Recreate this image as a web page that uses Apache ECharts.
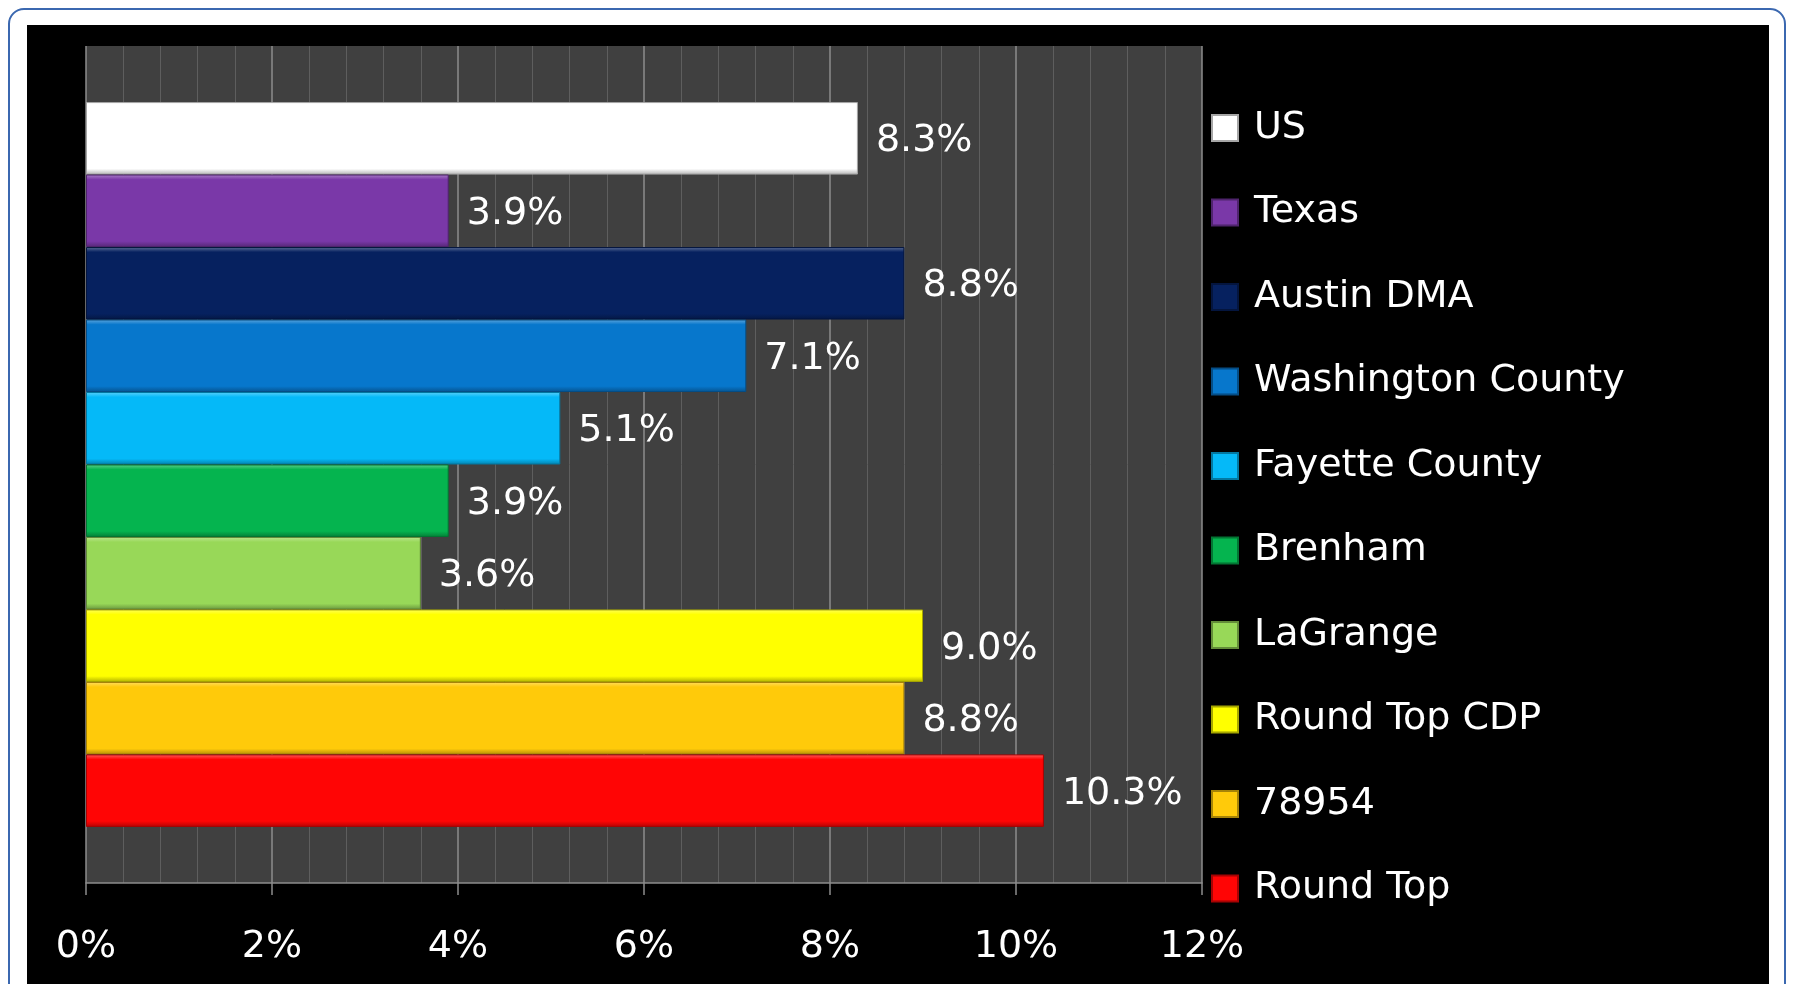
<!DOCTYPE html>
<html>
<head>
<meta charset="utf-8">
<script src="https://cdn.jsdelivr.net/npm/echarts@6/dist/echarts.min.js"></script>
<style>
html, body { margin:0; padding:0; background:#fff; width:1799px; height:984px; overflow:hidden; }
#frame { position:absolute; left:8px; top:8px; width:1778px; height:992px; border:2px solid #3b68b0; border-radius:16px; box-sizing:border-box; }
#panel { position:absolute; left:27px; top:25px; width:1742px; height:970px; background:#000; }
#main { position:absolute; left:0; top:0; width:1799px; height:984px; }
</style>
</head>
<body>
<div id="frame"></div>
<div id="panel"></div>
<div id="main"></div>
<script>
// data
var places = ['US', 'Texas', 'Austin DMA', 'Washington County', 'Fayette County',
              'Brenham', 'LaGrange', 'Round Top CDP', '78954', 'Round Top'];
var rates = [8.3, 3.9, 8.8, 7.1, 5.1, 3.9, 3.6, 9.0, 8.8, 10.3];
var xTicks = [0, 2, 4, 6, 8, 10, 12];

// bar colours, same order as places
var palette = ['#ffffff', '#7a38a8', '#06215f', '#0777cc', '#05b9f8',
               '#05b44f', '#98d858', '#ffff00', '#ffca0a', '#ff0505'];

var font = 'DejaVu Sans';

function mix(hex, target, t) {
    var n = parseInt(hex.slice(1), 16);
    var r = n >> 16, g = (n >> 8) & 255, b = n & 255;
    r = Math.round(r + (target - r) * t);
    g = Math.round(g + (target - g) * t);
    b = Math.round(b + (target - b) * t);
    return 'rgb(' + r + ',' + g + ',' + b + ')';
}

// fake the excel bevel: light top edge, dark bottom edge
function bevel(c) {
    return new echarts.graphic.LinearGradient(0, 0, 0, 1, [
        { offset: 0, color: mix(c, 255, 0.35) },
        { offset: 0.07, color: c },
        { offset: 0.92, color: c },
        { offset: 1, color: mix(c, 0, 0.3) }
    ]);
}

var series = places.map(function (name, i) {
    return {
        name: name,
        type: 'bar',
        data: [rates[i]],
        barGap: '0%',
        barCategoryGap: '13.4%',
        itemStyle: {
            color: bevel(palette[i]),
            borderColor: mix(palette[i], 0, 0.35),
            borderWidth: 1
        },
        label: {
            show: true,
            position: 'right',
            distance: 18,
            offset: [0, 3],
            color: '#fff',
            fontFamily: font,
            fontSize: 38,
            formatter: function (p) { return p.value.toFixed(1) + '%'; }
        }
    };
});

var myChart = echarts.init(document.getElementById('main'));
myChart.setOption({
    animation: false,
    backgroundColor: 'transparent',
    grid: {
        left: 86, right: 597, top: 46, bottom: 101,
        show: true, backgroundColor: '#404040', borderWidth: 0
    },
    legend: {
        orient: 'vertical',
        left: 1206,
        top: 103,
        itemWidth: 26,
        itemHeight: 26,
        itemGap: 44.5,
        selectedMode: false,
        icon: 'rect',
        textStyle: {
            color: '#fff',
            fontFamily: font,
            fontSize: 38,
            lineHeight: 40,
            padding: [0, 0, 0, 11]
        },
        data: places
    },
    xAxis: {
        type: 'value',
        min: xTicks[0],
        max: xTicks[xTicks.length - 1],
        interval: 2,
        axisLine: { show: true, lineStyle: { color: '#8c8c8c', width: 1.5 } },
        axisTick: { show: true, length: 12, lineStyle: { color: '#8c8c8c', width: 1.5 } },
        minorTick: { show: false, splitNumber: 5 },
        minorSplitLine: { show: true, lineStyle: { color: '#5e5e5e', width: 1 } },
        splitLine: { show: true, lineStyle: { color: '#8c8c8c', width: 1.5 } },
        axisLabel: {
            color: '#fff',
            fontFamily: font,
            fontSize: 38,
            margin: 45,
            formatter: function (v) { return v + '%'; }
        }
    },
    yAxis: {
        type: 'category',
        data: [''],
        inverse: true,
        axisLine: { show: false },
        axisTick: { show: false },
        axisLabel: { show: false }
    },
    series: series
});
</script>
</body>
</html>
